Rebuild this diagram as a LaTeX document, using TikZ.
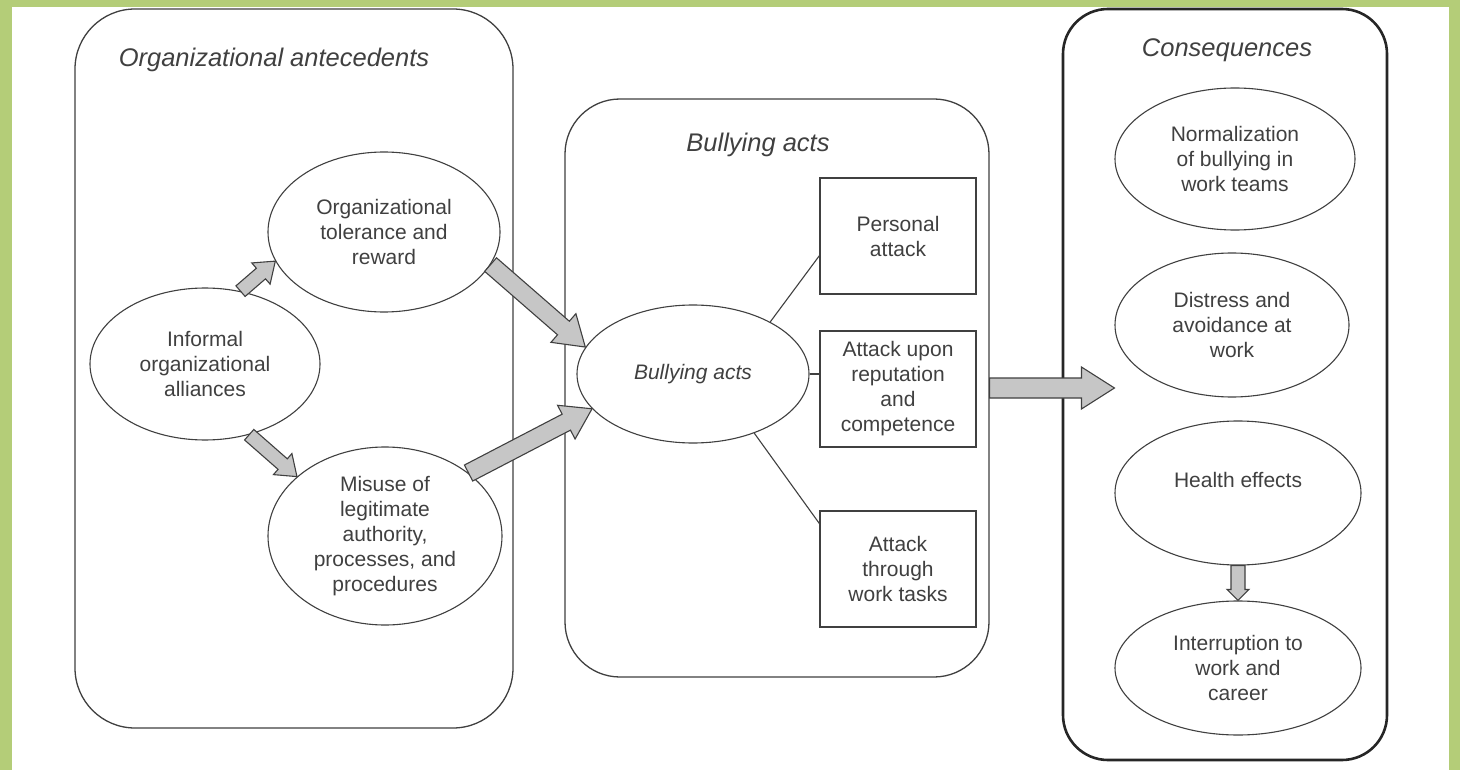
\documentclass[tikz,border=0pt]{standalone}
\usepackage{fontspec}
\setmainfont{Liberation Sans}
\usetikzlibrary{shapes.geometric,calc}

\definecolor{leafgreen}{RGB}{180,205,120}
\definecolor{inkgray}{RGB}{64,64,64}
\definecolor{fillgray}{RGB}{198,198,198}

\tikzset{
  panel/.style={draw=inkgray, line width=1.3pt, rounded corners=#1},
  paneltitle/.style={font=\fontsize{25.5}{30}\selectfont\itshape, text=inkgray},
  bubble/.style={ellipse, draw=inkgray, line width=1.1pt, inner sep=0pt, align=center,
    font=\fontsize{21}{25}\selectfont, text=inkgray},
  actbox/.style={rectangle, draw=inkgray, line width=1.1pt, inner sep=0pt, align=center,
    minimum width=156pt, minimum height=116pt, font=\fontsize{21}{25}\selectfont, text=inkgray},
  link/.style={draw=inkgray, line width=1.1pt},
  fatarrow/.style={draw=inkgray, fill=fillgray, line width=1.1pt, line join=miter}
}

% shaft half width, head half width, head length, from, to
\newcommand{\fatarrow}[5]{%
  \draw[fatarrow] let \p1=(#4), \p2=(#5), \n1={atan2(\y2-\y1,\x2-\x1)}, \n2={veclen(\x2-\x1,\y2-\y1)} in
    {[shift={(\p1)}, rotate=\n1]
    (0pt,-#1pt) -- (\n2-#3pt,-#1pt) -- (\n2-#3pt,-#2pt) -- (\n2,0pt)
    -- (\n2-#3pt,#2pt) -- (\n2-#3pt,#1pt) -- (0pt,#1pt) -- cycle};}

\begin{document}
\begin{tikzpicture}[x=1pt,y=-1pt]
  \useasboundingbox (0,0) rectangle (1460,770);
  \fill[leafgreen] (0,0) rectangle (1460,770);
  \fill[white] (12,7) rectangle (1449,770);

  % the three panels
  \node[panel=60pt, minimum width=438pt, minimum height=719pt] (antebox) at (294,368.5) {};
  \node[panel=55pt, minimum width=424pt, minimum height=578pt] (actsbox) at (777,388) {};
  \node[panel=45pt, minimum width=324pt, minimum height=751pt, line width=2.6pt, draw=black!85] (consbox) at (1225,384.5) {};
  \node[paneltitle] (antetitle) at (274,60) {Organizational antecedents};
  \node[paneltitle] (actstitle) at (758,145) {Bullying acts};
  \node[paneltitle] (constitle) at (1227,50) {Consequences};

  % antecedents
  \node[bubble, minimum width=230pt, minimum height=152pt] (inform) at (205,364) {Informal\\organizational\\alliances};
  \node[bubble, minimum width=232pt, minimum height=160pt] (toler) at (384,232) {Organizational\\tolerance and\\reward};
  \node[bubble, minimum width=234pt, minimum height=178pt] (misuse) at (385,536) {Misuse of\\legitimate\\authority,\\processes, and\\procedures};

  % acts
  \node[bubble, minimum width=232pt, minimum height=138pt, font=\fontsize{21}{25}\selectfont\itshape] (bully) at (693,374) {Bullying acts};
  \node[actbox] (pers) at (898,236) {Personal\\attack};
  \node[actbox] (repu) at (898,389) {Attack upon\\reputation\\and\\competence};
  \node[actbox] (tasks) at (898,569) {Attack\\through\\work tasks};

  % consequences
  \node[bubble, minimum width=240pt, minimum height=142pt] (norm) at (1235,159) {Normalization\\of bullying in\\work teams};
  \node[bubble, minimum width=234pt, minimum height=144pt] (dist) at (1232,325) {Distress and\\avoidance at\\work};
  \node[bubble, minimum width=246pt, minimum height=144pt, text depth=26pt] (health) at (1238,493) {Health effects};
  \node[bubble, minimum width=246pt, minimum height=134pt] (interr) at (1238,668) {Interruption to\\work and\\career};

  \draw[link] (bully.34) -- (pers.194);
  \draw[link] (bully.east) -- (bully.east -| repu.west);
  \draw[link] (bully.-44) -- (tasks.150);

  \fatarrow{7}{14}{19}{inform.64}{toler.195}
  \fatarrow{7}{14}{19}{inform.-58}{misuse.146}
  \fatarrow{9}{19}{29}{toler.-17}{bully.166}
  \fatarrow{9}{19}{29}{misuse.37}{bully.199}
  \fatarrow{10}{21}{33}{actsbox.east}{actsbox.east -| dist.west}
  \fatarrow{7}{11}{11}{health.south}{interr.north}
\end{tikzpicture}
\end{document}
